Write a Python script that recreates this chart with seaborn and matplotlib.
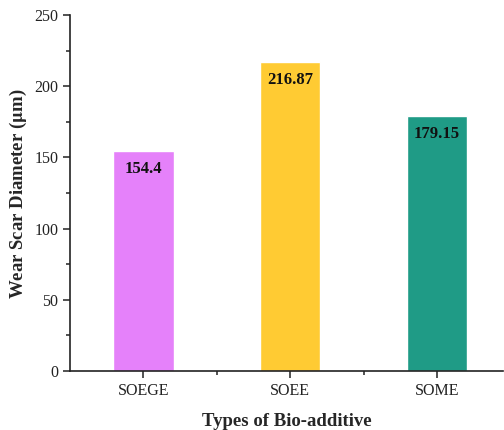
import matplotlib
matplotlib.use("Agg")
import matplotlib.pyplot as plt
from matplotlib.ticker import MultipleLocator
import seaborn as sns
import pandas as pd

# data
additives = ["SOEGE", "SOEE", "SOME"]
wear_scar = [154.4, 216.87, 179.15]
bar_colors = ["#E581FA", "#FFCB33", "#1F9B86"]

df = pd.DataFrame({"additive": additives, "wsd": wear_scar})

sns.set_style("ticks")
plt.rcParams["font.family"] = ["Liberation Serif", "DejaVu Serif"]
plt.rcParams["mathtext.fontset"] = "stix"

fig = plt.figure(figsize=(5.04, 4.30), dpi=100)
ax = fig.add_axes([0.139, 0.137, 0.859, 0.828])

sns.barplot(data=df, x="additive", y="wsd", hue="additive", palette=bar_colors,
            width=0.41, legend=False, ax=ax, saturation=1)

# value labels just inside the top of each bar
for i, v in enumerate(wear_scar):
    ax.annotate(f"{v:g}", (i, v), xytext=(0, -18), textcoords="offset pixels",
                ha="center", va="center", fontsize=12, fontweight="bold",
                color="#111111")

ax.set_ylim(0, 250)
ax.set_xlim(-0.5, 2.45)
ax.yaxis.set_major_locator(MultipleLocator(50))
ax.yaxis.set_minor_locator(MultipleLocator(25))
ax.set_xticks([0.5, 1.5], minor=True)
ax.tick_params(axis="both", which="major", direction="out", length=5, width=1.1,
               labelsize=11.5, color="#222222", labelcolor="#222222")
ax.tick_params(axis="both", which="minor", direction="out", length=3, width=1.1,
               color="#222222")

for side in ["top", "right"]:
    ax.spines[side].set_visible(False)
for side in ["left", "bottom"]:
    ax.spines[side].set_linewidth(1.2)
    ax.spines[side].set_color("#222222")

ax.set_xlabel("Types of Bio-additive", fontsize=13.5, fontweight="bold", labelpad=10)
ax.set_ylabel("Wear Scar Diameter ($\\mathbf{\\mu}$m)", fontsize=13.5, fontweight="bold", labelpad=4)

fig.savefig("out.png", dpi=100)
